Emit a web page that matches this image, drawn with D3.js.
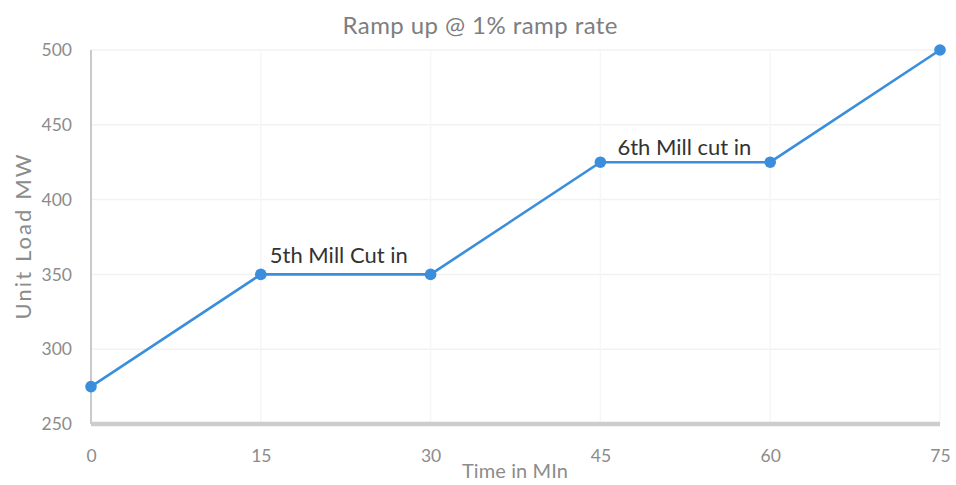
<!DOCTYPE html>
<html>
<head>
<meta charset="utf-8">
<script src="https://cdn.jsdelivr.net/npm/d3@7"></script>
<style>
  html, body { margin: 0; padding: 0; background: #fff; }
  svg text { font-family: Lato, "Open Sans", sans-serif; }
</style>
</head>
<body>
<svg id="chart" width="956" height="485"></svg>
<script>
// Unit load during ramp-up, minutes vs MW
const timeMin = [0, 15, 30, 45, 60, 75];
const loadMW = [275, 350, 350, 425, 425, 500];
const xTicks = [0, 15, 30, 45, 60, 75];
const yTicks = [250, 300, 350, 400, 450, 500];
// Callouts, anchored at the start of the plateau they describe
const noteText = ["5th Mill Cut in", "6th Mill cut in"];
const noteAt = [1, 3]; // index into the series
const noteOffset = [[9, -11], [17, -7]];

const svg = d3.select("#chart");
const plotL = 91, plotR = 940, plotT = 50, plotB = 424;

const x = d3.scaleLinear().domain([0, 75]).range([plotL, plotR]);
const y = d3.scaleLinear().domain([250, 500]).range([plotB, plotT]);

// faint gridlines
svg.append("g").selectAll("line").data(yTicks.slice(1)).join("line")
  .attr("x1", plotL).attr("x2", plotR)
  .attr("y1", d => y(d)).attr("y2", d => y(d))
  .attr("stroke", "#f2f2f2").attr("stroke-width", 1.5);
svg.append("g").selectAll("line").data(xTicks.slice(1)).join("line")
  .attr("x1", d => x(d)).attr("x2", d => x(d))
  .attr("y1", plotT).attr("y2", plotB)
  .attr("stroke", "#f6f6f6").attr("stroke-width", 1.5);

// axis lines
svg.append("line").attr("x1", plotL).attr("x2", plotL).attr("y1", plotT).attr("y2", plotB)
  .attr("stroke", "#cacaca").attr("stroke-width", 2);
svg.append("line").attr("x1", plotL).attr("x2", plotR).attr("y1", plotB).attr("y2", plotB)
  .attr("stroke", "#cdcdcd").attr("stroke-width", 4.5);

// tick labels via d3 axes
const yAxis = svg.append("g").attr("transform", `translate(${plotL},0)`)
  .call(d3.axisLeft(y).tickValues(yTicks).tickSize(0).tickPadding(19));
yAxis.select(".domain").remove();
yAxis.selectAll("text").attr("fill", "#8c8c8c").style("font-size", "17.5px");

const xAxis = svg.append("g").attr("transform", `translate(0,${plotB})`)
  .call(d3.axisBottom(x).tickValues(xTicks).tickSize(0).tickPadding(26));
xAxis.select(".domain").remove();
xAxis.selectAll("text").attr("fill", "#8c8c8c").style("font-size", "17.5px");

// title and axis titles
svg.append("text").attr("x", 480).attr("y", 34).attr("text-anchor", "middle")
  .attr("textLength", 275).attr("fill", "#7e7e7e").style("font-size", "24px")
  .text("Ramp up @ 1% ramp rate");
svg.append("text").attr("x", 515).attr("y", 478).attr("text-anchor", "middle")
  .attr("textLength", 106).attr("fill", "#8c8c8c").style("font-size", "20px")
  .text("Time in MIn");
svg.append("text").attr("transform", "translate(31,237) rotate(-90)").attr("text-anchor", "middle")
  .attr("textLength", 165).attr("fill", "#8c8c8c").style("font-size", "22px")
  .text("Unit Load MW");

// series line and markers
const line = d3.line().x((d, i) => x(timeMin[i])).y(d => y(d));
svg.append("path").datum(loadMW).attr("d", line)
  .attr("fill", "none").attr("stroke", "#3a8edb").attr("stroke-width", 2.6);
svg.append("g").selectAll("circle").data(loadMW).join("circle")
  .attr("cx", (d, i) => x(timeMin[i])).attr("cy", d => y(d)).attr("r", 5.8)
  .attr("fill", "#3a8edb");

// callout labels
svg.append("g").selectAll("text").data(noteText).join("text")
  .attr("x", (d, i) => x(timeMin[noteAt[i]]) + noteOffset[i][0])
  .attr("y", (d, i) => y(loadMW[noteAt[i]]) + noteOffset[i][1])
  .attr("fill", "#333").style("font-size", "22px").text(d => d);
</script>
</body>
</html>
